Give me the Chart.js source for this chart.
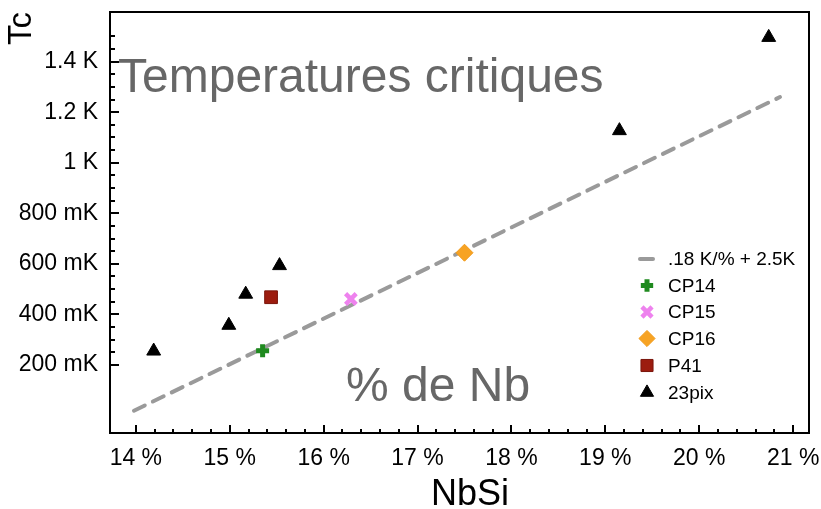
<!DOCTYPE html>
<html><head><meta charset="utf-8">
<script src="https://cdn.jsdelivr.net/npm/chart.js@4/dist/chart.umd.min.js"></script>
<style>html,body{margin:0;padding:0;background:#fff;}#wrap{width:821px;height:509px;}</style>
</head><body><div id="wrap"><canvas id="c" width="821" height="509"></canvas></div>
<script>
// ---- data ----
const xTickValues = [14, 15, 16, 17, 18, 19, 20, 21];
const xTickLabels = ['14 %', '15 %', '16 %', '17 %', '18 %', '19 %', '20 %', '21 %'];
const yTickValues = [0.2, 0.4, 0.6, 0.8, 1.0, 1.2, 1.4];
const yTickLabels = ['200 mK', '400 mK', '600 mK', '800 mK', '1 K', '1.2 K', '1.4 K'];
const seriesNames = ['.18 K/% + 2.5K', 'CP14', 'CP15', 'CP16', 'P41', '23pix'];
const fitX = [13.98, 20.86];
const fitY = [0.019, 1.26];
const cp14X = [15.35];  const cp14Y = [0.256];
const cp15X = [16.29];  const cp15Y = [0.461];
const cp16X = [17.50];  const cp16Y = [0.644];
const p41X  = [15.44];  const p41Y  = [0.468];
const pixX  = [14.19, 14.99, 15.17, 15.53, 19.15, 20.74];
const pixY  = [0.255, 0.357, 0.480, 0.593, 1.127, 1.496];
const xTitle = 'NbSi';
const yTitle = 'Tc';
const overlayTitle = 'Temperatures critiques';
const overlaySub = '% de Nb';

const pts = (xs, ys) => xs.map((x, i) => ({x: x, y: ys[i]}));
const FONT = '"Liberation Sans", Arial, Helvetica, sans-serif';

const datasets = [
  {label: seriesNames[0], data: pts(fitX, fitY), showLine: true, borderColor: '#9a9a9a', borderWidth: 4,
   borderDash: [12, 9], borderCapStyle: 'round', pointRadius: 0, pointHoverRadius: 0, order: 5, legendStyle: 'line'},
  {label: seriesNames[1], data: pts(cp14X, cp14Y), pointStyle: 'cross', pointRadius: 6.5, borderWidth: 5,
   borderColor: '#1f8a1f', backgroundColor: '#1f8a1f', order: 0},
  {label: seriesNames[2], data: pts(cp15X, cp15Y), pointStyle: 'crossRot', pointRadius: 7.5, borderWidth: 4.5,
   borderColor: '#ee82ee', backgroundColor: '#ee82ee', order: 0},
  {label: seriesNames[3], data: pts(cp16X, cp16Y), pointStyle: 'rectRot', pointRadius: 8.5, borderWidth: 1,
   borderColor: '#f09a1a', backgroundColor: '#f7a323', order: 0},
  {label: seriesNames[4], data: pts(p41X, p41Y), pointStyle: 'rect', pointRadius: 9, borderWidth: 1,
   borderColor: '#7a150b', backgroundColor: '#9c1c0f', order: 0},
  {label: seriesNames[5], data: pts(pixX, pixY), pointStyle: 'triangle', pointRadius: 8, borderWidth: 1,
   borderColor: '#000', backgroundColor: '#000', order: 0}
];

const frameAndTicks = {
  id: 'frameAndTicks',
  beforeDatasetsDraw(chart) {
    const ctx = chart.ctx, a = chart.chartArea;
    const xs = chart.scales.x, ys = chart.scales.y;
    ctx.save();
    ctx.strokeStyle = '#000';
    ctx.lineWidth = 2;
    // x ticks (major every 1 %, minor every 0.2 %)
    for (let k = 0; k <= 35; k++) {
      const v = 14 + k * 0.2;
      const px = Math.round(xs.getPixelForValue(v));
      const major = k % 5 === 0;
      ctx.beginPath(); ctx.moveTo(px, a.bottom); ctx.lineTo(px, a.bottom - (major ? 8 : 4)); ctx.stroke();
    }
    // y ticks (major every 200 mK, minor every 50 mK)
    for (let k = 0; k <= 26; k++) {
      const v = 0.2 + k * 0.05;
      const py = Math.round(ys.getPixelForValue(v));
      const major = k % 4 === 0;
      ctx.beginPath(); ctx.moveTo(a.left, py); ctx.lineTo(a.left + (major ? 9 : 5), py); ctx.stroke();
    }
    ctx.strokeRect(a.left, a.top, a.right - a.left, a.bottom - a.top);
    ctx.restore();
  },
  afterDraw(chart) {
    const ctx = chart.ctx;
    ctx.save();
    // axis title x
    ctx.fillStyle = '#000';
    ctx.font = '36px ' + FONT;
    ctx.textAlign = 'center';
    ctx.textBaseline = 'alphabetic';
    ctx.fillText(xTitle, 470, 505);
    // overlay texts
    ctx.fillStyle = '#676767';
    ctx.font = '48px ' + FONT;
    ctx.textAlign = 'left';
    ctx.fillText(overlayTitle, 118, 92);
    ctx.fillText(overlaySub, 346, 401);
    // legend
    const rows = [259, 285.5, 312, 338.5, 365.5, 392.5];
    const mx = 647, tx = 668;
    ctx.font = '19px ' + FONT;
    ctx.textBaseline = 'middle';
    chart.data.datasets.forEach((ds, i) => {
      const y = rows[i];
      if (ds.legendStyle === 'line') {
        ctx.strokeStyle = ds.borderColor; ctx.lineWidth = 4; ctx.lineCap = 'round';
        ctx.beginPath(); ctx.moveTo(mx - 7, y); ctx.lineTo(mx + 6, y); ctx.stroke();
      } else {
        ctx.fillStyle = ds.backgroundColor; ctx.strokeStyle = ds.borderColor; ctx.lineWidth = ds.borderWidth;
        ctx.lineCap = 'butt';
        Chart.helpers.drawPoint(ctx, {pointStyle: ds.pointStyle, radius: ds.pointRadius * 0.95, borderWidth: ds.borderWidth, rotation: 0}, mx, y);
      }
      ctx.fillStyle = '#000';
      ctx.fillText(ds.label, tx, y + 1);
    });
    ctx.restore();
  }
};

new Chart(document.getElementById('c'), {
  type: 'scatter',
  data: {datasets: datasets},
  options: {
    responsive: false,
    animation: false,
    devicePixelRatio: 1,
    layout: {padding: {top: 12, right: 8, left: 0, bottom: 0}},
    plugins: {legend: {display: false}, tooltip: {enabled: false}},
    scales: {
      x: {
        type: 'linear', min: 13.7247, max: 21.169,
        afterBuildTicks: s => { s.ticks = xTickValues.map(v => ({value: v})); },
        afterFit: s => { s.height = 76; s.paddingLeft = 0; s.paddingRight = 0; },
        grid: {display: false, drawTicks: false},
        border: {display: false},
        ticks: {padding: 12, color: '#000', font: {family: FONT, size: 23},
          callback: (v) => xTickLabels[xTickValues.indexOf(v)]},
        title: {display: false}
      },
      y: {
        type: 'linear', min: -0.0692, max: 1.5964,
        afterBuildTicks: s => { s.ticks = yTickValues.map(v => ({value: v})); },
        afterFit: s => { s.width = 110; s.paddingTop = 0; s.paddingBottom = 0; },
        grid: {display: false, drawTicks: false},
        border: {display: false},
        ticks: {padding: 12, color: '#000', font: {family: FONT, size: 23},
          callback: (v) => { const i = yTickValues.findIndex(t => Math.abs(t - v) < 1e-6); return yTickLabels[i]; }},
        title: {display: true, text: yTitle, align: 'end', color: '#000', font: {family: FONT, size: 33, lineHeight: 1.2}, padding: {top: 2, bottom: 0}}
      }
    }
  },
  plugins: [frameAndTicks]
});
</script>
</body></html>
